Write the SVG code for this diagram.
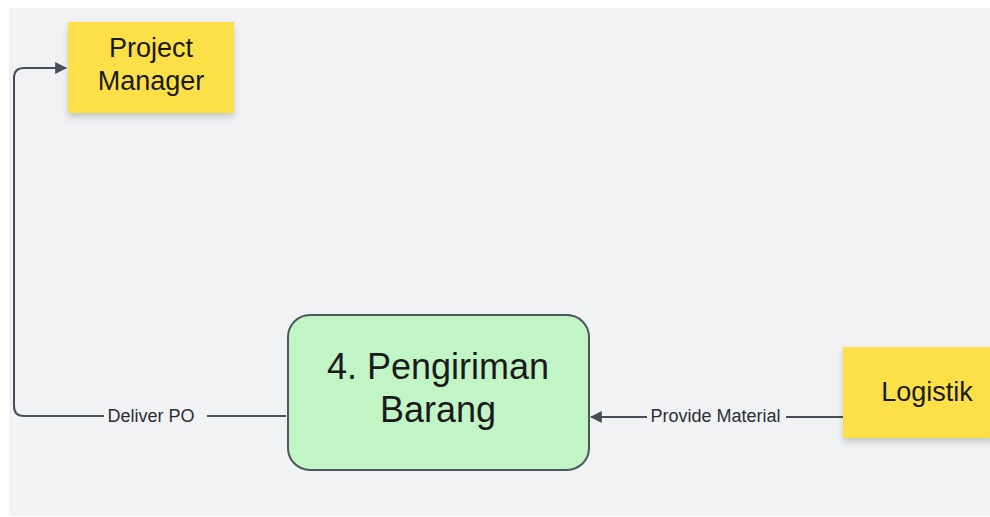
<svg xmlns="http://www.w3.org/2000/svg" width="990" height="517" viewBox="0 0 990 517">
  <style>
    .sticky { fill: #fde047; }
    .label-big { font-family: "Liberation Sans", Arial, sans-serif; font-size: 27px; fill: #1a1a1a; text-anchor: middle; }
    .edge { fill: none; stroke: #474e57; stroke-width: 2; }
    .edge-label { font-family: "Liberation Sans", Arial, sans-serif; font-size: 18px; fill: #2b2f35; text-anchor: middle; }
  </style>
  <defs>
    <marker id="arrow" viewBox="0 0 10 10" refX="9" refY="5" markerWidth="6" markerHeight="6" orient="auto-start-reverse" markerUnits="strokeWidth">
      <path d="M0,0 L10,5 L0,10 z" fill="#474e57"/>
    </marker>
    <filter id="shadow" x="-10%" y="-10%" width="130%" height="140%">
      <feDropShadow dx="0" dy="4" stdDeviation="3" flood-color="#000" flood-opacity="0.18"/>
    </filter>
  </defs>

  <rect x="0" y="0" width="990" height="517" fill="#ffffff"/>
  <rect x="9" y="8" width="981" height="508" fill="#f1f2f4"/>

  <g id="connectors">
    <path class="edge" d="M286,416 H207 M104,416 H24 Q14,416 14,406 V78 Q14,68 24,68 H66" marker-end="url(#arrow)"/>
    <text class="edge-label" x="151" y="422">Deliver PO</text>
    <path class="edge" d="M843,417 H786 M647,417 H591" marker-end="url(#arrow)"/>
    <text class="edge-label" x="715.5" y="422">Provide Material</text>
  </g>

  <g id="project-manager">
    <rect class="sticky" x="68" y="22" width="166" height="91" filter="url(#shadow)"/>
    <text class="label-big" x="151" y="57">Project</text>
    <text class="label-big" x="151" y="90">Manager</text>
  </g>

  <g id="pengiriman-barang">
    <rect x="288" y="315" width="301" height="155" rx="22" fill="#c2f5c6" stroke="#4d555d" stroke-width="2"/>
    <text x="438" y="379" font-family="Liberation Sans, Arial, sans-serif" font-size="36" fill="#1a1a1a" text-anchor="middle">4. Pengiriman</text>
    <text x="438" y="422" font-family="Liberation Sans, Arial, sans-serif" font-size="36" fill="#1a1a1a" text-anchor="middle">Barang</text>
  </g>

  <g id="logistik">
    <rect class="sticky" x="843" y="347" width="150" height="91" filter="url(#shadow)"/>
    <text class="label-big" x="927" y="401">Logistik</text>
  </g>
</svg>
